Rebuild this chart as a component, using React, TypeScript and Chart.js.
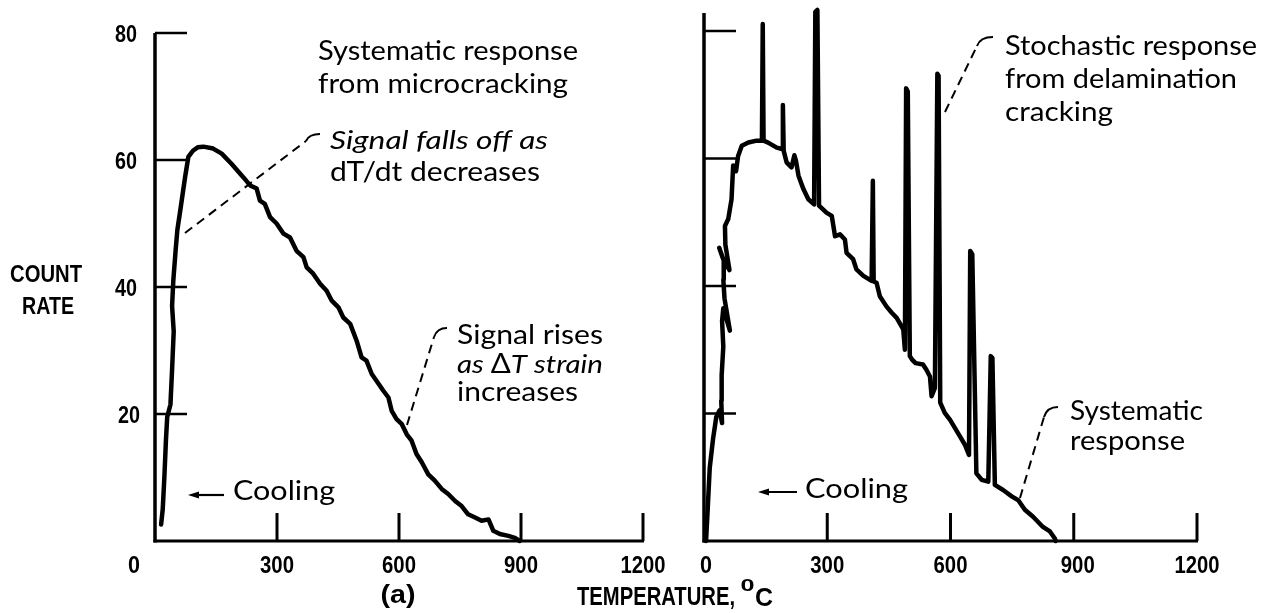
import React, { useEffect, useRef } from "react";
import { Chart, registerables } from "chart.js";

Chart.register(...registerables);

// ---- Data ----
// Panel (a): systematic response from microcracking
const tempA = [15, 19, 23, 27, 30, 38, 42, 46, 42, 45, 51, 55, 62, 74, 82, 94, 105, 119, 143, 164, 188, 217, 234, 250, 258, 270, 283, 299, 316, 332, 348, 365, 373, 389, 406, 422, 434, 451, 463, 480, 496, 508, 520, 533, 545, 561, 574, 582, 594, 607, 619, 631, 643, 656, 672, 688, 705, 721, 738, 754, 770, 787, 803, 820, 832, 848, 869, 885, 897];
const countA = [2.6, 5, 10, 16, 19.5, 21.5, 27, 33, 37, 41, 46, 49, 52, 57.3, 60.5, 61.5, 62, 62.1, 61.8, 61, 59.4, 57.3, 56, 55.5, 53.6, 53.1, 51, 50, 48.4, 47.8, 45.7, 44.7, 43.1, 42.1, 40.5, 39.4, 37.9, 36.8, 35.2, 34.2, 31.5, 28.9, 28.4, 26.3, 25.2, 23.7, 22.6, 20.5, 19.2, 18.4, 16.8, 15.8, 13.7, 12.4, 10.5, 9.5, 8.2, 7.4, 6.3, 5.5, 4.2, 3.7, 3.2, 3.4, 1.6, 1.1, 0.8, 0.5, 0];

// Panel (b): systematic + stochastic (delamination) response
const tempB = [5, 9, 14, 22, 30, 38, 44, 42, 43, 47, 44, 47, 63, 50, 47, 48, 37, 45, 62, 52, 51, 59, 67, 71, 78, 83, 92, 108, 128, 141, 143, 145, 156, 177, 190, 192, 194, 201, 213, 220, 224, 230, 242, 254, 268, 271, 276, 280, 298, 311, 319, 331, 343, 347, 363, 371, 388, 408, 411, 413, 420, 428, 444, 457, 469, 485, 489, 492, 496, 501, 506, 515, 533, 541, 550, 554, 562, 568, 571, 575, 586, 599, 611, 623, 635, 645, 648, 653, 663, 676, 692, 698, 702, 708, 728, 749, 765, 781, 801, 825, 842, 854, 856];
const countB = [0, 5, 11.5, 16, 19.5, 20.5, 18.5, 22, 26, 30.5, 34.5, 36.5, 33, 38, 41, 44, 46, 44.5, 42.5, 46.5, 49.4, 50.5, 53.6, 58.9, 58, 60.4, 62, 62.5, 62.8, 62.8, 81.1, 62.8, 62.5, 61.7, 61.5, 68.4, 61.2, 59.4, 58.6, 60.5, 59.6, 57.3, 55.2, 53.6, 52.8, 83, 83.3, 52.6, 51.5, 51, 47.8, 48.1, 47.3, 45.2, 44.2, 42.6, 41.6, 40.8, 56.5, 40.7, 40.5, 38.4, 36.8, 35.8, 35, 33.2, 30, 71, 70.5, 29, 28.5, 27.9, 27.7, 26.9, 25.8, 22.7, 24, 73.3, 73, 21.7, 20.1, 19, 17.7, 16.4, 15.1, 13.5, 45.5, 45, 10.6, 9.6, 9.3, 29, 28.7, 8.8, 8, 7, 6.4, 4.9, 3.8, 2.2, 1.5, 0.4, 0];

const yTicks = [20, 40, 60, 80];
const yTickLabels = ["20", "40", "60", "80"];
const xTicks = [300, 600, 900, 1200];
const xTickLabelsA = ["300", "600", "900", "1200"];
const xTickLabelsB = ["300", "600", "900", "1200"];

const W = 1265;
const H = 613;

const ANN = "Lato, 'Open Sans', 'DejaVu Sans', sans-serif";
const BOLD = "'Liberation Sans', Arial, 'DejaVu Sans', sans-serif";

function fit(ctx: CanvasRenderingContext2D, text: string, x: number, y: number, w: number, font: string, align: CanvasTextAlign = "left") {
  ctx.save();
  ctx.font = font;
  const m = ctx.measureText(text).width;
  const s = w / m;
  ctx.translate(x, y);
  ctx.scale(s, 1);
  ctx.textAlign = align;
  ctx.textBaseline = "alphabetic";
  ctx.fillStyle = "#000";
  ctx.fillText(text, 0, 0);
  ctx.restore();
}

function fitRuns(ctx: CanvasRenderingContext2D, runs: { t: string; f: string }[], x: number, y: number, w: number) {
  ctx.save();
  const widths = runs.map((r) => {
    ctx.font = r.f;
    return ctx.measureText(r.t).width;
  });
  const total = widths.reduce((a, b) => a + b, 0);
  ctx.translate(x, y);
  ctx.scale(w / total, 1);
  ctx.textAlign = "left";
  ctx.textBaseline = "alphabetic";
  ctx.fillStyle = "#000";
  let cx = 0;
  runs.forEach((r, i) => {
    ctx.font = r.f;
    ctx.fillText(r.t, cx, 0);
    cx += widths[i];
  });
  ctx.restore();
}

function leader(ctx: CanvasRenderingContext2D, x1: number, y1: number, x2: number, y2: number, x3: number, y3: number) {
  ctx.save();
  ctx.strokeStyle = "#000";
  ctx.lineWidth = 2;
  ctx.setLineDash([9, 6]);
  ctx.beginPath();
  ctx.moveTo(x1, y1);
  ctx.lineTo(x2, y2);
  ctx.stroke();
  ctx.setLineDash([]);
  ctx.beginPath();
  ctx.moveTo(x2, y2);
  ctx.quadraticCurveTo(x2 + 3, y3, x3, y3);
  ctx.stroke();
  ctx.restore();
}

function arrowLeft(ctx: CanvasRenderingContext2D, xTip: number, xEnd: number, y: number) {
  ctx.save();
  ctx.strokeStyle = "#000";
  ctx.fillStyle = "#000";
  ctx.lineWidth = 2.2;
  ctx.beginPath();
  ctx.moveTo(xTip + 6, y);
  ctx.lineTo(xEnd, y);
  ctx.stroke();
  ctx.beginPath();
  ctx.moveTo(xTip, y);
  ctx.lineTo(xTip + 11, y - 3.5);
  ctx.lineTo(xTip + 11, y + 3.5);
  ctx.closePath();
  ctx.fill();
  ctx.restore();
}

function drawAxes(chart: any, extendTop: number, xLabels: string[], showZeroX: boolean) {
  const ctx: CanvasRenderingContext2D = chart.ctx;
  const xs = chart.scales.x;
  const ys = chart.scales.y;
  const x0 = xs.getPixelForValue(0);
  const y0 = ys.getPixelForValue(0);
  const yTop = ys.getPixelForValue(80) - extendTop;
  ctx.save();
  ctx.strokeStyle = "#000";
  ctx.lineCap = "butt";
  ctx.lineWidth = 3.5;
  ctx.beginPath();
  ctx.moveTo(x0, yTop);
  ctx.lineTo(x0, y0 + 1.5);
  ctx.stroke();
  ctx.lineWidth = 3;
  ctx.beginPath();
  ctx.moveTo(x0 - 1.5, y0);
  ctx.lineTo(xs.getPixelForValue(1200) + 1, y0);
  ctx.stroke();
  ctx.lineWidth = 2.5;
  yTicks.forEach((v) => {
    const py = ys.getPixelForValue(v);
    ctx.beginPath();
    ctx.moveTo(x0, py);
    ctx.lineTo(x0 + 32, py);
    ctx.stroke();
  });
  ctx.lineWidth = 3;
  xTicks.forEach((v) => {
    const px = xs.getPixelForValue(v);
    ctx.beginPath();
    ctx.moveTo(px, y0);
    ctx.lineTo(px, y0 - 28);
    ctx.stroke();
  });
  ctx.restore();
  const lf = `bold 24px ${BOLD}`;
  xTicks.forEach((v, i) => {
    const px = xs.getPixelForValue(v);
    const w = xLabels[i].length === 4 ? 45 : 34;
    fit(ctx, xLabels[i], px + (v === 900 && showZeroX ? 4 : 0), 573, w, lf, "center");
  });
  if (showZeroX) {
    fit(ctx, "0", x0 + 2, 573, 12, lf, "center");
  }
}

const plugA = {
  id: "decoA",
  beforeDatasetsDraw(chart: any) {
    drawAxes(chart, 0, xTickLabelsA, false);
    const ctx: CanvasRenderingContext2D = chart.ctx;
    const xs = chart.scales.x;
    const ys = chart.scales.y;
    const x0 = xs.getPixelForValue(0);
    const lf = `bold 24px ${BOLD}`;
    yTicks.forEach((v, i) => {
      const py = ys.getPixelForValue(v);
      fit(ctx, yTickLabels[i], x0 - 18 + (v === 20 ? 3 : 0), py + 8.5, 22, lf, "right");
    });
    fit(ctx, "0", 134, 573, 12, lf, "center");
    fit(ctx, "COUNT", 46, 282, 72, `bold 24px ${BOLD}`, "center");
    fit(ctx, "RATE", 48, 314, 52, `bold 24px ${BOLD}`, "center");
    fit(ctx, "(a)", 398, 603, 35, `bold 25px ${BOLD}`, "center");
    fit(ctx, "TEMPERATURE,", 577, 605, 158, `bold 25px ${BOLD}`, "left");
    fit(ctx, "0", 747.5, 591, 14, `bold 16px ${BOLD}`, "center");
    fit(ctx, "C", 764, 606, 18, `bold 26px ${BOLD}`, "center");
  },
  afterDatasetsDraw(chart: any) {
    const ctx: CanvasRenderingContext2D = chart.ctx;
    const f = `26px ${ANN}`;
    const fi = `italic 26px ${ANN}`;
    fit(ctx, "Systematic response", 318, 60, 260, f);
    fit(ctx, "from microcracking", 318, 93, 250, f);
    fit(ctx, "Signal falls off as", 330, 149, 218, fi);
    fit(ctx, "dT/dt decreases", 330, 181, 210, f);
    fit(ctx, "Signal rises", 457, 344, 146, f);
    fitRuns(ctx, [
      { t: "as ", f: fi },
      { t: "\u0394", f: f },
      { t: "T strain", f: fi },
    ], 457, 373, 146);
    fit(ctx, "increases", 457, 401, 121, f);
    fit(ctx, "Cooling", 233, 500, 102, f);
    arrowLeft(ctx, 188, 224, 495);
    leader(ctx, 185, 233, 306, 141, 320, 134);
    leader(ctx, 407, 425, 434, 337, 447, 328);
  },
};

const plugB = {
  id: "decoB",
  beforeDatasetsDraw(chart: any) {
    drawAxes(chart, 18, xTickLabelsB, true);
  },
  afterDatasetsDraw(chart: any) {
    const ctx: CanvasRenderingContext2D = chart.ctx;
    const f = `26px ${ANN}`;
    fit(ctx, "Stochastic response", 1005, 55, 252, f);
    fit(ctx, "from delamination", 1005, 88, 232, f);
    fit(ctx, "cracking", 1005, 121, 108, f);
    fit(ctx, "Systematic", 1070, 420, 133, f);
    fit(ctx, "response", 1070, 450, 115, f);
    fit(ctx, "Cooling", 805, 498, 103, f);
    arrowLeft(ctx, 758, 797, 492);
    leader(ctx, 945, 112, 977, 46, 993, 37);
    leader(ctx, 1020, 498, 1044, 417, 1058, 407);
  },
};

function makeChart(canvas: HTMLCanvasElement, xs: number[], ys: number[], padding: any, plugin: any, lw: number) {
  const pts = xs.map((x, i) => ({ x, y: ys[i] }));
  return new Chart(canvas, {
    type: "scatter",
    data: {
      datasets: [
        {
          data: pts,
          showLine: true,
          borderColor: "#000",
          backgroundColor: "#000",
          borderWidth: lw,
          pointRadius: 0,
          tension: 0,
          fill: false,
          clip: false,
          borderJoinStyle: "round",
          borderCapStyle: "round",
        } as any,
      ],
    },
    options: {
      animation: false,
      responsive: false,
      events: [],
      layout: { padding },
      plugins: {
        legend: { display: false },
        tooltip: { enabled: false },
        title: { display: false },
      },
      scales: {
        x: { type: "linear", min: 0, max: 1200, display: false },
        y: { type: "linear", min: 0, max: 80, display: false },
      },
    },
    plugins: [plugin],
  });
}

export default function App() {
  const refA = useRef<HTMLCanvasElement | null>(null);
  const refB = useRef<HTMLCanvasElement | null>(null);

  useEffect(() => {
    if (!refA.current || !refB.current) return;
    const a = makeChart(refA.current, tempA, countA, { left: 155, right: W - 643, top: 33, bottom: H - 541 }, plugA, 4.5);
    const b = makeChart(refB.current, tempB, countB, { left: 704, right: W - 1197, top: 31, bottom: H - 541 }, plugB, 4.5);
    return () => {
      a.destroy();
      b.destroy();
    };
  }, []);

  const cs: React.CSSProperties = { position: "absolute", left: 0, top: 0, width: W, height: H };
  return (
    <div style={{ position: "absolute", left: 0, top: 0, width: W, height: H, background: "#fff", overflow: "hidden" }}>
      <canvas ref={refA} width={W} height={H} style={cs} />
      <canvas ref={refB} width={W} height={H} style={cs} />
    </div>
  );
}
